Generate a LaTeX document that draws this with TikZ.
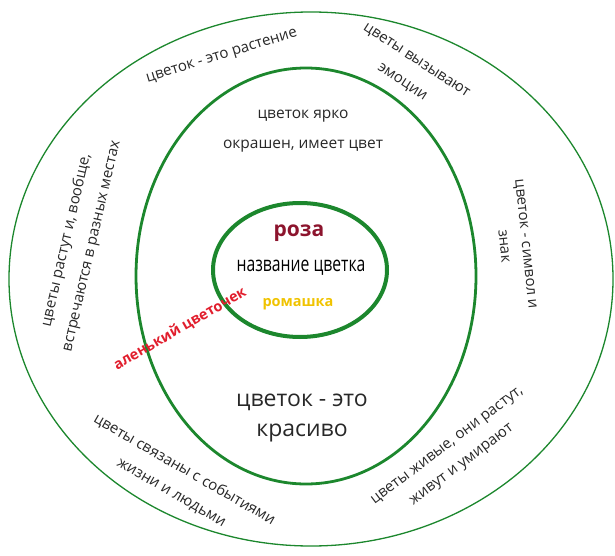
\documentclass[tikz,border=0pt]{standalone}
\usepackage{fontspec}
\setmainfont{Open Sans}
\usetikzlibrary{positioning}
\definecolor{ringgreen}{RGB}{28,135,45}
\definecolor{rozared}{RGB}{140,20,45}
\definecolor{alred}{RGB}{225,30,45}
\definecolor{romyellow}{RGB}{240,195,0}
\definecolor{txtgrey}{RGB}{40,40,40}
\tikzset{lbl/.style={align=center,inner sep=0pt,text=txtgrey,font=\fontsize{15}{26}\selectfont}}

\begin{document}
\begin{tikzpicture}[x=1pt,y=-1pt]
\useasboundingbox (0,0) rectangle (615,556);
% three rings
\foreach \cx/\cy/\rx/\ry/\w in {311/279/302/267/1.3, 306/276/170/208/2.8, 300/270/87/67/4}
  \draw[ringgreen,line width=\w pt] (\cx,\cy) ellipse (\rx pt and \ry pt);

% inner ring
\node[lbl,text=rozared,font=\fontsize{21}{22}\selectfont\bfseries] (roza) at (299,233) {роза};
\node[lbl,text=black,font=\fontsize{21}{22}\selectfont,xscale=0.75] (nazv) at (301,268) {название цветка};
\node[lbl,text=romyellow,font=\fontsize{14.5}{16}\selectfont\bfseries] (rom) at (298,304) {ромашка};
\node[lbl,text=alred,font=\fontsize{14.5}{16}\selectfont\bfseries,rotate=30] (alen) at (180,329) {аленький цветочек};

% middle ring
\node[lbl,font=\fontsize{15.5}{30}\selectfont] (yarko) at (303,131) {цветок ярко\\окрашен, имеет цвет};
\node[lbl,font=\fontsize{23}{30}\selectfont] (krasivo) at (302,418) {цветок - это\\красиво};

% outer ring
\node[lbl,rotate=17] (rast) at (222,57) {цветок - это растение};
\node[lbl,rotate=-33] (emoc) at (409,72) {цветы вызывают\\эмоции};
\node[lbl,rotate=77] (mesta) at (79,243) {цветы растут и, вообще,\\встречаются в разных местах};
\node[lbl,rotate=-84,font=\fontsize{15}{22}\selectfont] (znak) at (515,245) {цветок - символ и\\знак};
\node[lbl,rotate=-30] (sobyt) at (178,481) {цветы связаны с событиями\\жизни и людьми};
\node[lbl,rotate=37,font=\fontsize{15}{24}\selectfont] (zhiv) at (455,456) {цветы живые, они растут,\\живут и умирают};
\end{tikzpicture}
\end{document}
